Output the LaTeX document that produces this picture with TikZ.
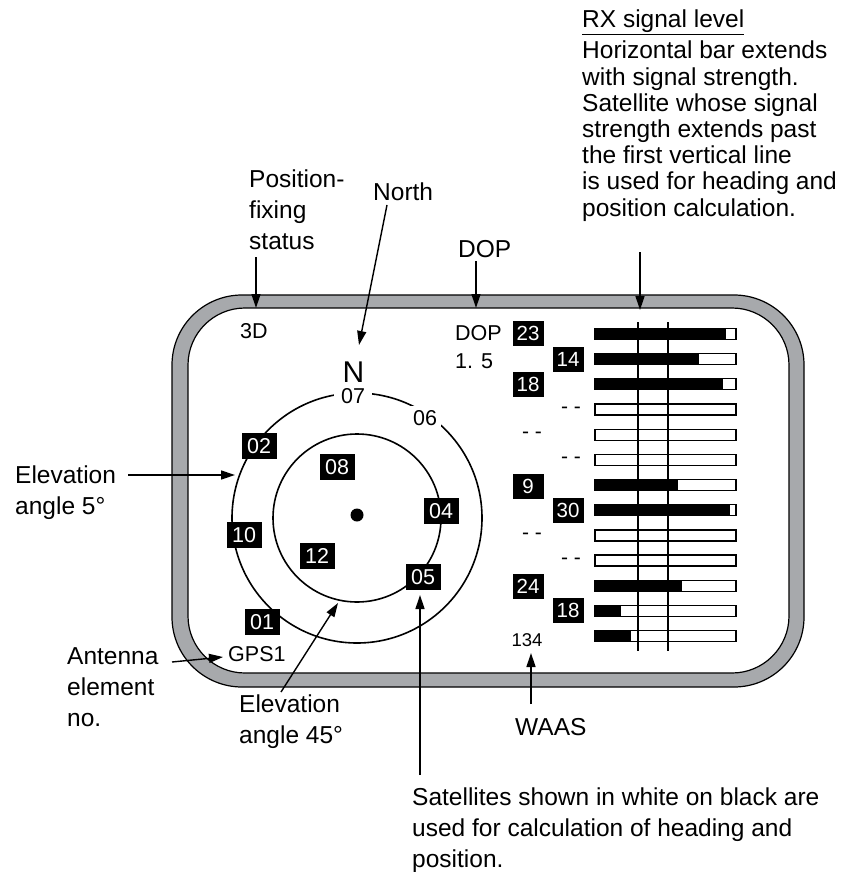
\documentclass[tikz,border=0pt]{standalone}
\usepackage{fontspec}
\setmainfont{Liberation Sans}
\usetikzlibrary{arrows.meta}
\definecolor{bandgray}{HTML}{A7A9AC}
\tikzset{
  lbl/.style={font=\fontsize{24.5}{31}\selectfont, inner sep=0pt, anchor=base west},
  inl/.style={font=\fontsize{21.5}{28}\selectfont, inner sep=0pt, anchor=base west},
  arr/.style={line width=1.4pt, -{Triangle[length=14pt,width=9pt]}},
  plain/.style={line width=1.4pt},
  sat/.style={fill=black, text=white, inner sep=0pt, minimum width=35pt, minimum height=26pt, font=\fontsize{21.5}{21.5}\selectfont},
  satr/.style={sat, minimum width=31pt, minimum height=25pt, font=\fontsize{20.5}{20.5}\selectfont},
  dashlbl/.style={font=\fontsize{21}{21}\selectfont, inner sep=0pt, anchor=base},
  ring/.style={draw=black, line width=1.6pt},
  barout/.style={draw=black, line width=1.3pt},
}
\begin{document}
\begin{tikzpicture}[x=1pt,y=-1pt]
\useasboundingbox (0,0) rectangle (850,872);

% frame
\fill[bandgray, rounded corners=70pt] (172,295) rectangle (804,687);
\draw[line width=1.2pt, rounded corners=70pt] (172,295) rectangle (804,687);
\fill[white, rounded corners=57pt] (188,308) rectangle (789,673);
\draw[line width=1.2pt, rounded corners=57pt] (188,308) rectangle (789,673);

% sky plot
\coordinate (ctr) at (357,518);
\draw[ring] (ctr) circle[radius=125];
\draw[ring] (ctr) circle[radius=84];
\fill (357,515) circle[radius=6.5];

\node[font=\fontsize{30}{30}\selectfont, inner sep=0pt, anchor=base] (N) at (353.5,382) {N};
\node[font=\fontsize{21.5}{21.5}\selectfont, fill=white, inner xsep=7pt, inner ysep=2pt, anchor=base] (s07) at (353,403) {07};
\node[font=\fontsize{21.5}{21.5}\selectfont, fill=white, inner sep=4pt, anchor=base] (s06) at (425,425) {06};

\node[sat] (s02) at (259,446) {02};
\node[sat] (s08) at (337,467) {08};
\node[sat] (s04) at (441,511) {04};
\node[sat] (s10) at (244,535) {10};
\node[sat] (s12) at (317,556) {12};
\node[sat] (s05) at (423,577) {05};
\node[sat] (s01) at (262,622) {01};

\node[inl] (fix) at (240,338) {3D};
\node[inl] (dopv) at (455,340) {\begin{tabular}[t]{@{}l@{}}DOP\\1. 5\end{tabular}};
\node[inl] (gps) at (228,661) {GPS1};

% signal bars
\foreach \i/\e in {1/726,2/699,3/723,4/0,5/0,6/0,7/678,8/730,9/0,10/0,11/682,12/621,13/631}{
  \pgfmathsetmacro\yy{334+25.17*(\i-1)}
  \fill[white] (595,{\yy-5.5}) rectangle (736,{\yy+5.5});
  \ifnum\e>0 \fill[black] (595,{\yy-5.5}) rectangle (\e,{\yy+5.5}); \fi
  \draw[barout] (595,{\yy-5.5}) rectangle (736,{\yy+5.5});
}
\draw[plain] (638,322) -- (638,651);
\draw[plain] (668,322) -- (668,651);

\node[satr] (r1) at (528,333) {23};
\node[satr] (r2) at (568,359.2) {14};
\node[satr] (r3) at (528,384.3) {18};
\node[dashlbl] (r4) at (571,413.5) {- -};
\node[dashlbl] (r5) at (532,438.7) {- -};
\node[dashlbl] (r6) at (571,463.8) {- -};
\node[satr] (r7) at (528,486) {9};
\node[satr] (r8) at (568,510.2) {30};
\node[dashlbl] (r9) at (532,539.3) {- -};
\node[dashlbl] (r10) at (571,564.5) {- -};
\node[satr] (r11) at (528,586.5) {24};
\node[satr] (r12) at (568,610.8) {18};
\node[font=\fontsize{18.5}{18.5}\selectfont, inner sep=0pt, anchor=base] (waasv) at (527,646) {134};

% outside labels
\node[lbl, font=\fontsize{24.5}{26.2}\selectfont] (rx) at (582,28) {\begin{tabular}[t]{@{}l@{}}\underline{RX signal level}\\[4.8pt]Horizontal bar extends\\with signal strength.\\Satellite whose signal\\strength extends past\\the first vertical line\\is used for heading and\\position calculation.\end{tabular}};
\node[lbl] (status) at (249,187) {\begin{tabular}[t]{@{}l@{}}Position-\\fixing\\status\end{tabular}};
\node[lbl] (north) at (373,200) {North};
\node[lbl] (dop) at (458,257) {DOP};
\node[lbl] (el5) at (15,483) {\begin{tabular}[t]{@{}l@{}}Elevation\\angle 5°\end{tabular}};
\node[lbl] (ant) at (67,664) {\begin{tabular}[t]{@{}l@{}}Antenna\\element\\no.\end{tabular}};
\node[lbl] (el45) at (239,712) {\begin{tabular}[t]{@{}l@{}}Elevation\\angle 45°\end{tabular}};
\node[lbl] (waas) at (515,735) {WAAS};
\node[lbl] (sats) at (412,805) {\begin{tabular}[t]{@{}l@{}}Satellites shown in white on black are\\used for calculation of heading and\\position.\end{tabular}};

% arrow coordinates
\coordinate (aStatusA) at (256,257);  \coordinate (aStatusB) at (256,308);
\coordinate (aNorthA) at (387,205);   \coordinate (aNorthB) at (359,345);
\coordinate (aDopA) at (476,261);     \coordinate (aDopB) at (476,308);
\coordinate (aRxA) at (640,252);      \coordinate (aRxB) at (640,310);
\coordinate (aEl5A) at (128,475);     \coordinate (aEl5B) at (235,475);
\coordinate (aAntA) at (172,662);     \coordinate (aAntB) at (223,657);
\coordinate (aEl45A) at (281,692);    \coordinate (aEl45B) at (338,603);
\coordinate (aSatA) at (420,775);     \coordinate (aSatB) at (420,595);
\coordinate (aWaasA) at (531,704);    \coordinate (aWaasB) at (531,653);

\draw[arr] (aStatusA) -- (aStatusB);
\draw[arr] (aNorthA) -- (aNorthB);
\draw[arr] (aDopA) -- (aDopB);
\draw[arr] (aRxA) -- (aRxB);
\draw[arr] (aEl5A) -- (aEl5B);
\draw[arr] (aAntA) -- (aAntB);
\draw[arr] (aEl45A) -- (aEl45B);
\draw[arr] (aSatA) -- (aSatB);
\draw[arr] (aWaasA) -- (aWaasB);
\end{tikzpicture}
\end{document}
